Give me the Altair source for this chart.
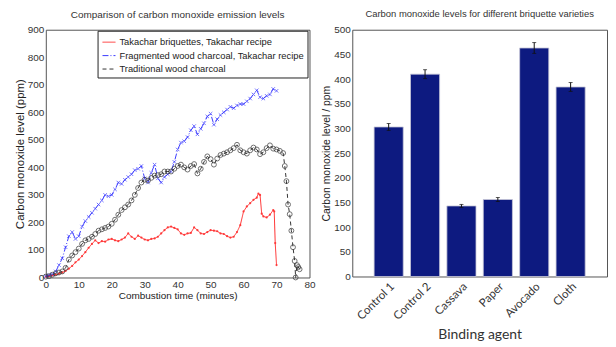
import altair as alt
import pandas as pd

# ---------------- left chart data (time in minutes, CO in ppm) ----------------
red_name = "Takachar briquettes, Takachar recipe"
blue_name = "Fragmented wood charcoal, Takachar recipe"
black_name = "Traditional wood charcoal"

red_t = [0, 1, 2, 3, 4, 5, 6, 7, 8, 9,
         10, 11, 12, 13, 14, 15, 16, 17, 18, 19,
         20, 21, 22, 23, 24, 25, 26, 27, 28, 29,
         30, 31, 32, 33, 34, 35, 36, 37, 38, 39,
         40, 41, 42, 43, 44, 45, 46, 47, 48, 49,
         50, 51, 52, 53, 54, 55, 56, 57, 58, 59,
         60, 61, 62, 63, 64, 64.5, 65, 65.5, 66, 67,
         68, 69, 69.3, 69.6, 70]
red_v = [3, 5, 8, 10, 14, 18, 24, 32, 42, 55,
         65, 78, 92, 108, 122, 135, 125, 132, 130, 138,
         140, 135, 132, 138, 145, 160, 148, 140, 152, 145,
         138, 135, 140, 142, 148, 160, 172, 182, 185, 180,
         175, 160, 155, 160, 162, 182, 172, 160, 158, 165,
         172, 170, 168, 160, 158, 150, 145, 148, 165, 190,
         240, 258, 270, 282, 290, 305, 300, 232, 222, 218,
         228, 245, 240, 125, 45]

blue_t = [0, 1, 2, 3, 4, 5, 6, 7, 8, 9,
          10, 11, 12, 13, 14, 15, 16, 17, 18, 19,
          20, 21, 22, 23, 24, 25, 26, 27, 28, 29,
          30, 31, 32, 33, 34, 35, 36, 37, 38, 39,
          40, 41, 42, 43, 44, 45, 46, 47, 48, 49,
          50, 51, 52, 53, 54, 55, 56, 57, 58, 59,
          60, 61, 62, 63, 64, 65, 66, 67, 68, 69,
          70]
blue_v = [5, 8, 12, 22, 45, 70, 110, 150, 165, 140,
          150, 185, 205, 220, 235, 250, 265, 280, 300, 295,
          300, 320, 345, 340, 355, 365, 375, 390, 395, 405,
          360, 345, 380, 410, 360, 345, 365, 375, 385, 420,
          465, 490, 495, 510, 535, 550, 520, 540, 560, 585,
          595, 555, 575, 590, 600, 610, 620, 615, 625, 630,
          630, 640, 650, 665, 680, 655, 650, 660, 665, 685,
          678]

black_t = [0, 1, 2, 3, 4, 5, 6, 7, 8, 9,
           10, 11, 12, 13, 14, 15, 16, 17, 18, 19,
           20, 21, 22, 23, 24, 25, 26, 27, 28, 29,
           30, 31, 32, 33, 34, 35, 36, 37, 38, 39,
           40, 41, 42, 43, 44, 45, 46, 47, 48, 49,
           50, 51, 52, 53, 54, 55, 56, 57, 58, 59,
           60, 61, 62, 63, 64, 65, 66, 67, 68, 69,
           70, 71, 72, 72.5, 73, 73.5, 74, 74.5, 75, 75.5,
           75.8, 76.2, 76.6, 77]
black_v = [3, 5, 10, 15, 18, 22, 35, 65, 80, 92,
           105, 122, 135, 140, 148, 158, 170, 175, 180, 185,
           195, 210, 228, 245, 255, 265, 280, 300, 325, 345,
           355, 352, 362, 370, 372, 375, 385, 385, 385, 395,
           405, 410, 400, 392, 405, 412, 378, 395, 420, 440,
           430, 410, 432, 445, 450, 455, 462, 470, 482, 462,
           455, 450, 462, 472, 465, 448, 455, 470, 480, 468,
           465, 460, 452, 405, 350, 265, 230, 170, 110, 60,
           0, 45, 38, 30]

# ---------------- right chart data ----------------
agents = ["Control 1", "Control 2", "Cassava", "Paper", "Avocado", "Cloth"]
levels = [303, 410, 143, 156, 463, 384]
errors = [7, 9, 3, 4, 11, 9]

series_names = [red_name, blue_name, black_name]
series_colors = ["#ff3030", "#3a3aff", "#333333"]
series_dash = [[1, 0], [6, 2, 1, 2], [4, 3]]

rows = []
for name, ts, vs in [(red_name, red_t, red_v), (blue_name, blue_t, blue_v), (black_name, black_t, black_v)]:
    for i, (t, v) in enumerate(zip(ts, vs)):
        rows.append({"series": name, "t": t, "v": v, "i": i})
df = pd.DataFrame(rows)

bar_df = pd.DataFrame({"agent": agents, "level": levels, "err": errors})
bar_df["lo"] = bar_df["level"] - bar_df["err"]
bar_df["hi"] = bar_df["level"] + bar_df["err"]

FONT = "Liberation Sans"

x_axis = alt.Axis(values=list(range(0, 81, 10)), title="Combustion time (minutes)",
                  titleFontSize=10, titlePadding=1, labelOverlap=False, labelFlush=False)
y_axis = alt.Axis(values=list(range(0, 901, 100)), title="Carbon monoxide level (ppm)",
                  titleFontSize=11.5, titlePadding=2, labelOverlap=False, labelFlush=False)
x_scale = alt.Scale(domain=[0, 80], nice=False)
y_scale = alt.Scale(domain=[0, 900], nice=False)
xenc = alt.X("t:Q", scale=x_scale, axis=x_axis)
yenc = alt.Y("v:Q", scale=y_scale, axis=y_axis)

legend = alt.Legend(orient="none", legendX=52, legendY=1, title=None,
                    fillColor="white", strokeColor="#222", padding=4,
                    labelFont=FONT, labelFontSize=9.4, labelColor="#222",
                    symbolType="stroke", symbolSize=170, symbolStrokeWidth=1,
                    rowPadding=1.5, labelOffset=3, labelLimit=300)

lines = alt.Chart(df).mark_line(strokeWidth=1).encode(
    x=xenc, y=yenc, order="i:Q",
    color=alt.Color("series:N", scale=alt.Scale(domain=series_names, range=series_colors), legend=legend),
    strokeDash=alt.StrokeDash("series:N", scale=alt.Scale(domain=series_names, range=series_dash), legend=legend),
)

pts_red = alt.Chart(df).transform_filter(alt.datum.series == red_name).mark_point(
    shape="circle", filled=True, size=5, color="#ff3030", opacity=0.9).encode(x=xenc, y=yenc)
pts_blue = alt.Chart(df).transform_filter(alt.datum.series == blue_name).mark_point(
    shape="M-1,-1L1,1M1,-1L-1,1", filled=False, size=12, color="#3a3aff", strokeWidth=1).encode(x=xenc, y=yenc)
pts_black = alt.Chart(df).transform_filter(alt.datum.series == black_name).mark_point(
    shape="circle", filled=False, size=24, color="#333333", strokeWidth=1, opacity=0.7).encode(x=xenc, y=yenc)

left = alt.layer(lines, pts_red, pts_blue, pts_black).properties(
    width=265, height=249,
    title=alt.TitleParams("Comparison of carbon monoxide emission levels", fontSize=10,
                          fontWeight="normal", font=FONT, color="#333", offset=5),
)

xb_axis = alt.Axis(title="Binding agent", labelAngle=315, labelAlign="right", labelBaseline="top",
                   labelFont="Lato", labelFontSize=11.5, titleFont="Lato", titleFontSize=14,
                   labelColor="#333", titleColor="#333", titlePadding=6, labelPadding=4)
yb_axis = alt.Axis(values=list(range(0, 501, 50)), title="Carbon monoxide level / ppm",
                   titleFontSize=10.5, titlePadding=2, labelOverlap=False, labelFlush=False)
xb_scale = alt.Scale(paddingInner=0.2, paddingOuter=0.6)
yb_scale = alt.Scale(domain=[0, 500], nice=False)
xb = alt.X("agent:N", sort=agents, scale=xb_scale, axis=xb_axis)

bars = alt.Chart(bar_df).mark_bar(color="#0d1a80", stroke="#c8c8d8", strokeWidth=0.8).encode(
    x=xb, y=alt.Y("level:Q", scale=yb_scale, axis=yb_axis))
rules = alt.Chart(bar_df).mark_rule(color="#111", strokeWidth=1).encode(
    x=xb, y=alt.Y("lo:Q", scale=yb_scale, axis=yb_axis), y2="hi:Q")
caps_hi = alt.Chart(bar_df).mark_tick(color="#111", thickness=1, size=4).encode(
    x=xb, y=alt.Y("hi:Q", scale=yb_scale, axis=yb_axis))
caps_lo = alt.Chart(bar_df).mark_tick(color="#111", thickness=1, size=4).encode(
    x=xb, y=alt.Y("lo:Q", scale=yb_scale, axis=yb_axis))

right = alt.layer(bars, rules, caps_hi, caps_lo).properties(
    width=256, height=248,
    title=alt.TitleParams("Carbon monoxide levels for different briquette varieties", fontSize=9.5,
                          fontWeight="normal", font=FONT, color="#333", offset=6),
)

chart = alt.hconcat(left, right, spacing=4).properties(
    padding={"left": 5, "top": 0, "right": 0, "bottom": 0}
).configure_view(stroke="#555", strokeWidth=1).configure_axis(
    grid=False, ticks=False, domain=False, labelFont=FONT, titleFont=FONT,
    labelFontSize=10, labelColor="#333", titleColor="#222", titleFontWeight="normal",
    labelPadding=2, labelOverlap=False, labelFlush=False,
)

chart.save("out.html", embed_options={"renderer": "svg", "actions": False})
